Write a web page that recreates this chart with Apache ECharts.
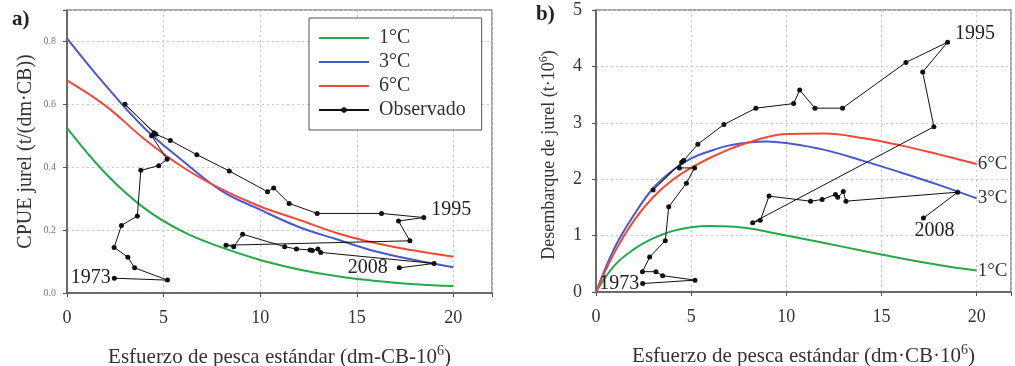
<!DOCTYPE html>
<html>
<head>
<meta charset="utf-8">
<script src="https://cdn.jsdelivr.net/npm/echarts@6/dist/echarts.min.js"></script>
<style>
  html, body { margin: 0; padding: 0; background: #fff; }
  #chart { width: 1015px; height: 366px; }
</style>
</head>
<body>
<div id="chart"></div>
<script>
// observed series 1973-2008: standard effort, CPUE and landings
const firstYear = 1973;
const effort = [2.45, 5.2, 3.5, 3.15, 2.44, 2.82, 3.64, 3.82, 4.75, 5.18, 4.38, 4.5, 3.0, 4.6, 5.35, 6.72, 8.4, 10.38, 10.7, 11.5, 12.95, 16.28, 18.47, 17.16, 17.75, 8.23, 8.63, 9.09, 11.27, 11.88, 12.58, 12.7, 12.99, 13.13, 19.0, 17.2];
const cpueObs = [0.047, 0.041, 0.08, 0.114, 0.145, 0.215, 0.245, 0.39, 0.405, 0.425, 0.50, 0.51, 0.60, 0.505, 0.485, 0.44, 0.388, 0.322, 0.334, 0.285, 0.253, 0.253, 0.24, 0.229, 0.166, 0.152, 0.147, 0.187, 0.147, 0.14, 0.137, 0.135, 0.14, 0.129, 0.094, 0.08];
const landingsObs = [0.15, 0.21, 0.29, 0.36, 0.36, 0.62, 0.91, 1.51, 1.93, 2.2, 2.2, 2.3, 1.81, 2.33, 2.62, 2.97, 3.26, 3.34, 3.58, 3.26, 3.26, 4.07, 4.43, 3.9, 2.93, 1.23, 1.27, 1.7, 1.61, 1.64, 1.73, 1.68, 1.78, 1.61, 1.77, 1.31];

// model curves, panel a (CPUE)
const cpueX = [0, 2, 4, 6, 8, 10, 12, 14, 16, 18, 20];
const cpue1 = [0.525, 0.38, 0.27, 0.195, 0.145, 0.105, 0.075, 0.053, 0.038, 0.028, 0.022];
const cpue3 = [0.81, 0.66, 0.525, 0.42, 0.325, 0.265, 0.21, 0.17, 0.132, 0.105, 0.082];
const cpue6 = [0.676, 0.595, 0.49, 0.40, 0.33, 0.275, 0.233, 0.19, 0.158, 0.135, 0.115];

// model curves, panel b (landings)
const landX = [0, 1, 2, 3, 4, 5, 6, 7, 8, 9, 10, 12, 14, 16, 18, 20];
const land1 = [0, 0.48, 0.76, 0.95, 1.08, 1.15, 1.17, 1.16, 1.13, 1.07, 1.0, 0.87, 0.73, 0.6, 0.48, 0.38];
const land3 = [0, 0.8, 1.37, 1.84, 2.15, 2.37, 2.5, 2.6, 2.65, 2.67, 2.64, 2.52, 2.33, 2.12, 1.9, 1.66];
const land6 = [0, 0.72, 1.27, 1.68, 1.98, 2.2, 2.38, 2.53, 2.65, 2.75, 2.8, 2.81, 2.73, 2.6, 2.44, 2.27];

const xTicks = [0, 5, 10, 15, 20];

const SERIF = "'Liberation Serif', 'Times New Roman', serif";
const GREEN = "#25a84a";
const BLUE = "#4b58cc";
const RED = "#f2483a";
const AXIS = "#555";
const SUP = { fontFamily: SERIF, fontSize: 14, color: "#333", verticalAlign: "top", padding: [0, 0, 12, 0] };

const pairs = (xs, ys) => xs.map((x, i) => [x, ys[i]]);

function observed(values, labels) {
  return effort.map((x, i) => {
    const item = { value: [x, values[i]] };
    const lab = labels[firstYear + i];
    if (lab) {
      item.label = Object.assign({
        show: true,
        formatter: String(firstYear + i),
        fontFamily: SERIF,
        fontSize: 20,
        color: "#222",
      }, lab);
    }
    return item;
  });
}

function xAxis(gridIndex, max, name) {
  return {
    type: "value",
    gridIndex,
    min: 0,
    max,
    interval: 5,
    name,
    nameLocation: "middle",
    nameGap: 51,
    nameTextStyle: { fontFamily: SERIF, fontSize: 21, color: "#333", rich: { sup: SUP } },
    axisLine: { show: true, lineStyle: { color: AXIS, width: 1.5 } },
    axisTick: { show: true, length: 4, lineStyle: { color: AXIS } },
    axisLabel: {
      margin: 16,
      fontFamily: SERIF,
      fontSize: 18,
      color: "#333",
      formatter: (v) => (xTicks.includes(v) ? String(v) : ""),
    },
    splitLine: { show: true, lineStyle: { color: "#c8c8c8", type: [2, 3] } },
  };
}

const chart = echarts.init(document.getElementById("chart"), null, { renderer: "canvas" });

const curve = (name, color, xi, data, endText) => ({
  type: "line",
  name,
  xAxisIndex: xi,
  yAxisIndex: xi,
  data,
  smooth: 0.4,
  symbol: "none",
  lineStyle: { color, width: 2 },
  itemStyle: { color },
  z: 2,
  endLabel: endText ? {
    show: true,
    formatter: endText,
    fontFamily: SERIF,
    fontSize: 19,
    color: "#333",
    distance: 1,
  } : { show: false },
});

const obsLine = (xi, data) => ({
  type: "line",
  name: "Observado",
  xAxisIndex: xi,
  yAxisIndex: xi,
  data,
  symbol: "circle",
  symbolSize: 5,
  lineStyle: { color: "#111", width: 1 },
  itemStyle: { color: "#111" },
  z: 3,
});

chart.setOption({
  animation: false,
  backgroundColor: "#fff",
  grid: [
    { left: 67, top: 10, width: 425, height: 283, outerBoundsMode: "none", containLabel: false, show: true, borderColor: "#8a8a8a", borderWidth: 1.5 },
    { left: 596, top: 10, width: 415, height: 282, outerBoundsMode: "none", containLabel: false, show: true, borderColor: "#8a8a8a", borderWidth: 1.5 },
  ],
  legend: {
    orient: "vertical",
    left: 309,
    top: 18,
    itemWidth: 50,
    itemHeight: 7,
    itemGap: 4,
    padding: [10, 16, 10, 9],
    backgroundColor: "#fff",
    borderColor: "#555",
    borderWidth: 1,
    borderRadius: 0,
    textStyle: { fontFamily: SERIF, fontSize: 20, lineHeight: 20, color: "#333", padding: [0, 0, 0, 5] },
    data: [
      { name: "1°C", itemStyle: { opacity: 0 } },
      { name: "3°C", itemStyle: { opacity: 0 } },
      { name: "6°C", itemStyle: { opacity: 0 } },
      { name: "Observado" },
    ],
  },
  xAxis: [
    xAxis(0, 22, "Esfuerzo de pesca estándar (dm-CB-10{sup|6})"),
    xAxis(1, 21.8, "Esfuerzo de pesca estándar (dm·CB·10{sup|6})"),
  ],
  yAxis: [
    {
      type: "value",
      gridIndex: 0,
      min: 0,
      max: 0.9,
      interval: 0.2,
      name: "CPUE jurel (t/(dm·CB))",
      nameLocation: "middle",
      nameGap: 31,
      nameTextStyle: { fontFamily: SERIF, fontSize: 20, color: "#333" },
      axisLine: { show: true, lineStyle: { color: AXIS, width: 1.5 } },
      axisTick: { show: true, length: 4, lineStyle: { color: AXIS } },
      axisLabel: {
        margin: 11,
        fontFamily: SERIF,
        fontSize: 10,
        color: "#777",
        formatter: (v) => (v > 0.85 ? "" : v.toFixed(1)),
      },
      splitLine: { show: true, lineStyle: { color: "#c8c8c8", type: [2, 3] } },
    },
    {
      type: "value",
      gridIndex: 1,
      min: 0,
      max: 5,
      interval: 1,
      name: "Desembarque de jurel (t·10{sup|6})",
      nameLocation: "middle",
      nameGap: 36,
      nameTextStyle: {
        fontFamily: SERIF,
        fontSize: 18,
        color: "#333",
        padding: [0, 8, 0, 0],
        rich: { sup: { fontFamily: SERIF, fontSize: 12, color: "#333", verticalAlign: "top", padding: [0, 0, 10, 0] } },
      },
      axisLine: { show: true, lineStyle: { color: AXIS, width: 1.5 } },
      axisTick: { show: true, length: 4, lineStyle: { color: AXIS } },
      axisLabel: { margin: 14, fontFamily: SERIF, fontSize: 18, color: "#333" },
      splitLine: { show: true, lineStyle: { color: "#c8c8c8", type: [2, 3] } },
    },
  ],
  graphic: [
    { type: "text", left: 12, top: 9, style: { text: "a)", font: "bold 21px " + SERIF, fill: "#222" } },
    { type: "text", left: 536, top: 4, style: { text: "b)", font: "bold 21px " + SERIF, fill: "#222" } },
  ],
  series: [
    curve("1°C", GREEN, 0, pairs(cpueX, cpue1)),
    curve("3°C", BLUE, 0, pairs(cpueX, cpue3)),
    curve("6°C", RED, 0, pairs(cpueX, cpue6)),
    obsLine(0, observed(cpueObs, {
      1973: { position: "left", distance: 1 },
      1995: { position: "right", distance: 5, offset: [0, -8] },
      2008: { position: "left", distance: 9 },
    })),
    curve("1°C", GREEN, 1, pairs(landX, land1), "1°C"),
    curve("3°C", BLUE, 1, pairs(landX, land3), "3°C"),
    curve("6°C", RED, 1, pairs(landX, land6), "6°C"),
    obsLine(1, observed(landingsObs, {
      1973: { position: "left", distance: 1 },
      1995: { position: "right", distance: 5, offset: [0, -8] },
      2008: { position: "bottom", distance: 2, offset: [11, -2] },
    })),
  ],
});
</script>
</body>
</html>
